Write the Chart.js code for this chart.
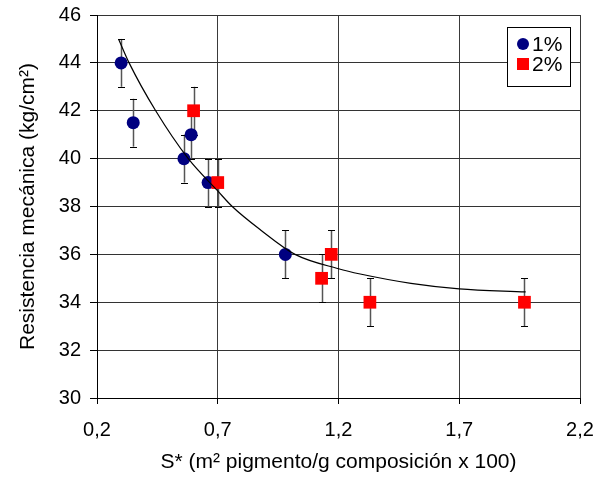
<!DOCTYPE html>
<html>
<head>
<meta charset="utf-8">
<script src="https://cdn.jsdelivr.net/npm/chart.js@4/dist/chart.umd.min.js"></script>
<style>
  html, body { margin: 0; padding: 0; background: #fff; }
  #wrap { width: 608px; height: 477px; position: relative; }
</style>
</head>
<body>
<div id="wrap"><canvas id="chart"></canvas></div>
<script>
// serie 1%
const s1X = [0.30, 0.35, 0.56, 0.59, 0.66, 0.98];
const s1Y = [44, 41.5, 40, 41, 39, 36];
const s1Err = [1, 1, 1, 1, 1, 1];

// serie 2%
const s2X = [0.60, 0.70, 1.13, 1.17, 1.33, 1.97];
const s2Y = [42, 39, 35, 36, 34, 34];
const s2Err = [1, 1, 1, 1, 1, 1];

// curva de tendencia
const curveX = [0.29, 0.333, 0.443, 0.578, 0.70, 0.76, 0.88, 1.02, 1.2, 1.29, 1.5, 1.7, 1.975];
const curveY = [44.98, 44.0, 42.0, 40.0, 38.65, 38.0, 37.0, 36.0, 35.4, 35.18, 34.79, 34.56, 34.43];

const xTicks = [0.2, 0.7, 1.2, 1.7, 2.2];
const xTickLabels = ["0,2", "0,7", "1,2", "1,7", "2,2"];
const yTicks = [30, 32, 34, 36, 38, 40, 42, 44, 46];

const FONT = "'Liberation Sans', Arial, sans-serif";

const toPts = (xs, ys) => xs.map((x, i) => ({ x: x, y: ys[i] }));

// barras de error
const errorBars = {
  id: "errorBars",
  beforeDatasetsDraw(chart) {
    const ctx = chart.ctx;
    const xs = chart.scales.x, ys = chart.scales.y;
    const sets = [[s1X, s1Y, s1Err], [s2X, s2Y, s2Err]];
    ctx.save();
    sets.forEach(([X, Y, E]) => {
      X.forEach((x, i) => {
        const px = Math.round(xs.getPixelForValue(x)) + 0.5;
        const top = ys.getPixelForValue(Y[i] + E[i]);
        const bot = ys.getPixelForValue(Y[i] - E[i]);
        ctx.strokeStyle = "#555";
        ctx.lineWidth = 1.5;
        ctx.beginPath();
        ctx.moveTo(px, top);
        ctx.lineTo(px, bot);
        ctx.stroke();
        ctx.strokeStyle = "#000";
        ctx.lineWidth = 1;
        ctx.beginPath();
        ctx.moveTo(px - 3.5, Math.round(top) + 0.5);
        ctx.lineTo(px + 3.5, Math.round(top) + 0.5);
        ctx.moveTo(px - 3.5, Math.round(bot) + 0.5);
        ctx.lineTo(px + 3.5, Math.round(bot) + 0.5);
        ctx.stroke();
      });
    });
    ctx.restore();
  }
};

// leyenda con recuadro
const boxLegend = {
  id: "boxLegend",
  afterDraw(chart) {
    const ctx = chart.ctx;
    const x0 = 507, y0 = 27, w = 63, h = 59;
    ctx.save();
    ctx.fillStyle = "#fff";
    ctx.fillRect(x0, y0, w, h);
    ctx.strokeStyle = "#000";
    ctx.lineWidth = 1;
    ctx.strokeRect(x0 + 0.5, y0 + 0.5, w, h);
    ctx.font = "21px " + FONT;
    ctx.textBaseline = "middle";
    ctx.fillStyle = "#000";
    const items = chart.data.datasets.filter(d => d.inLegend);
    items.forEach((d, i) => {
      const cy = 44 + i * 20;
      ctx.fillStyle = d.backgroundColor;
      if (d.pointStyle === "rect") {
        ctx.fillRect(517, cy - 6, 12, 12);
      } else {
        ctx.beginPath();
        ctx.arc(523, cy, 6, 0, Math.PI * 2);
        ctx.fill();
      }
      ctx.fillStyle = "#000";
      ctx.fillText(d.label, 532, cy + 1);
    });
    ctx.restore();
  }
};

new Chart(document.getElementById("chart"), {
  type: "scatter",
  data: {
    datasets: [
      {
        label: "tendencia",
        type: "line",
        data: toPts(curveX, curveY),
        borderColor: "#000",
        borderWidth: 1.2,
        pointRadius: 0,
        fill: false,
        cubicInterpolationMode: "monotone",
        order: 0
      },
      {
        label: "1%",
        inLegend: true,
        data: toPts(s1X, s1Y),
        pointStyle: "circle",
        pointRadius: 6.5,
        backgroundColor: "#000080",
        borderColor: "#000080",
        borderWidth: 0,
        order: 2
      },
      {
        label: "2%",
        inLegend: true,
        data: toPts(s2X, s2Y),
        pointStyle: "rect",
        pointRadius: 9,
        backgroundColor: "#ff0000",
        borderColor: "#ff0000",
        borderWidth: 0,
        order: 1
      }
    ]
  },
  options: {
    responsive: true,
    maintainAspectRatio: false,
    animation: false,
    layout: { padding: { top: 15, right: 28, left: 0, bottom: 0 } },
    plugins: { legend: { display: false }, tooltip: { enabled: false } },
    scales: {
      x: {
        type: "linear",
        min: 0.2,
        max: 2.2,
        afterBuildTicks: (s) => { s.ticks = xTicks.map(v => ({ value: v })); },
        afterFit: (s) => { s.height = 79; },
        ticks: {
          callback: (v) => xTickLabels[xTicks.indexOf(v)],
          color: "#000",
          font: { family: FONT, size: 20 },
          padding: 14,
          maxRotation: 0
        },
        grid: { color: "#3a3a3a", lineWidth: 1, tickColor: "#000", tickLength: 6 },
        border: { color: "#000", width: 1 },
        title: {
          display: true,
          text: "S* (m² pigmento/g composición x 100)",
          color: "#000",
          font: { family: FONT, size: 21 },
          padding: { top: 0, bottom: 2 }
        }
      },
      y: {
        min: 30,
        max: 46,
        afterBuildTicks: (s) => { s.ticks = yTicks.map(v => ({ value: v })); },
        afterFit: (s) => { s.width = 97; s.paddingTop = 5; s.paddingBottom = 5; },
        ticks: {
          color: "#000",
          font: { family: FONT, size: 20 },
          padding: 9
        },
        grid: { color: "#333", lineWidth: 1, tickColor: "#000", tickLength: 7 },
        border: { color: "#000", width: 1 },
        title: {
          display: true,
          text: "Resistencia mecánica (kg/cm²)",
          color: "#000",
          font: { family: FONT, size: 21 },
          padding: { top: 16, bottom: 0 }
        }
      }
    }
  },
  plugins: [errorBars, boxLegend]
});
</script>
</body>
</html>
